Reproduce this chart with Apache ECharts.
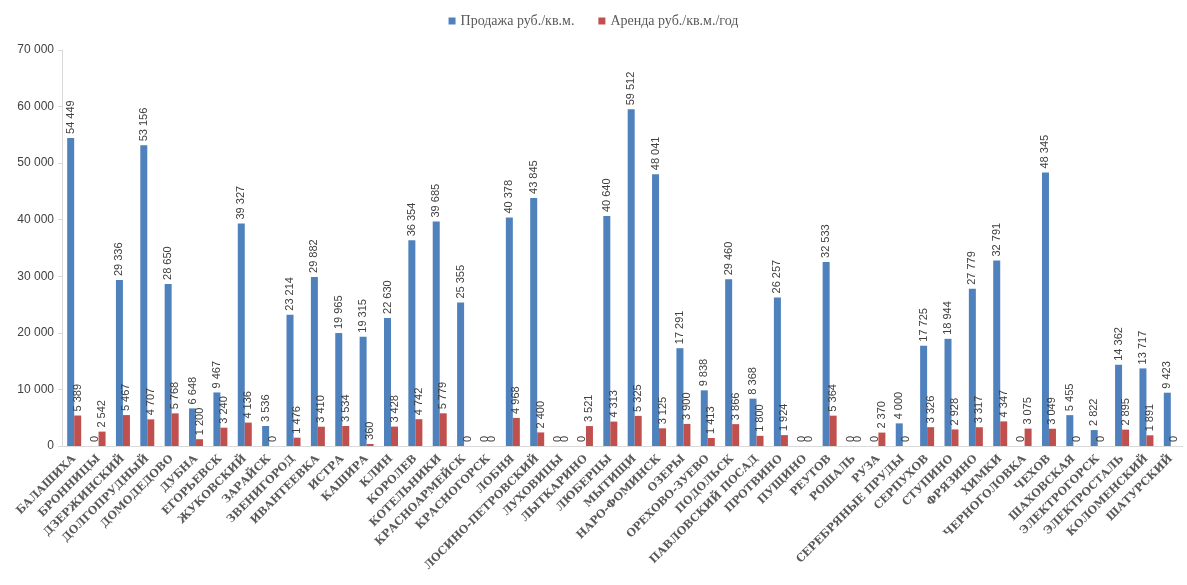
<!DOCTYPE html>
<html lang="ru">
<head>
    <meta charset="UTF-8">
    <script src="https://cdn.jsdelivr.net/npm/echarts@6/dist/echarts.min.js"></script>
    <style>
        body, html {
            margin: 0;
            height: 100%;
            background: #fff;
        }

        #main {
            width: 1187px;
            height: 585px;
        }
    </style>
    <title>Продажа и аренда</title>
</head>
<body>

<div id="main"></div>
<script type="text/javascript">
    const myChart = echarts.init(document.getElementById('main'));

    const cities = [
        'Балашиха', 'Бронницы', 'Дзержинский', 'Долгопрудный', 'Домодедово', 'Дубна',
        'Егорьевск', 'Жуковский', 'Зарайск', 'Звенигород', 'Ивантеевка', 'Истра',
        'Кашира', 'Клин', 'Королев', 'Котельники', 'Красноармейск', 'Красногорск',
        'Лобня', 'Лосино-Петровский', 'Луховицы', 'Лыткарино', 'Люберцы', 'Мытищи',
        'Наро-Фоминск', 'Озеры', 'Орехово-Зуево', 'Подольск', 'Павловский Посад', 'Протвино',
        'Пущино', 'Реутов', 'Рошаль', 'Руза', 'Серебряные пруды', 'Серпухов',
        'Ступино', 'Фрязино', 'Химки', 'Черноголовка', 'Чехов', 'Шаховская',
        'Электрогорск', 'Электросталь', 'Коломенский', 'Шатурский'
    ];
    const sale = [
        54449, 0, 29336, 53156, 28650, 6648,
        9467, 39327, 3536, 23214, 29882, 19965,
        19315, 22630, 36354, 39685, 25355, 0,
        40378, 43845, 0, 0, 40640, 59512,
        48041, 17291, 9838, 29460, 8368, 26257,
        0, 32533, 0, 0, 4000, 17725,
        18944, 27779, 32791, 0, 48345, 5455,
        2822, 14362, 13717, 9423
    ];
    const rent = [
        5389, 2542, 5467, 4707, 5768, 1200,
        3240, 4136, 0, 1476, 3410, 3534,
        360, 3428, 4742, 5779, 0, 0,
        4968, 2400, 0, 3521, 4313, 5325,
        3125, 3900, 1413, 3866, 1800, 1924,
        0, 5364, 0, 2370, 0, 3326,
        2928, 3317, 4347, 3075, 3049, 0,
        0, 2895, 1891, 0
    ];
    const seriesNames = ['Продажа руб./кв.м.', 'Аренда руб./кв.м./год'];

    function fmt(v) {
        return String(v).replace(/\B(?=(\d{3})+(?!\d))/g, ' ');
    }

    const barLabel = {
        show: true,
        position: 'top',
        rotate: 90,
        align: 'left',
        verticalAlign: 'middle',
        distance: 4,
        color: '#404040',
        fontSize: 11,
        fontFamily: 'Liberation Sans Narrow, Liberation Sans, sans-serif',
        formatter: function (p) {
            return fmt(p.value);
        }
    };

    const option = {
        animation: false,
        legend: {
            top: 9,
            left: 'center',
            icon: 'rect',
            itemWidth: 7,
            itemHeight: 7,
            itemGap: 24,
            textStyle: {
                color: '#595959',
                fontSize: 14,
                fontFamily: 'Liberation Serif, serif'
            },
            data: seriesNames
        },
        grid: {
            left: 62,
            right: 4,
            top: 50,
            bottom: 139
        },
        xAxis: {
            type: 'category',
            data: cities,
            axisLine: {lineStyle: {color: '#d9d9d9'}},
            axisTick: {show: false},
            axisLabel: {
                interval: 0,
                rotate: 45,
                color: '#595959',
                fontSize: 11,
                fontWeight: 'bold',
                fontFamily: 'DejaVu Serif, serif',
                margin: 11,
                formatter: function (v) {
                    return v.toUpperCase();
                }
            }
        },
        yAxis: {
            type: 'value',
            min: 0,
            max: 70000,
            interval: 10000,
            axisLine: {show: true, lineStyle: {color: '#d9d9d9'}},
            axisTick: {show: true, length: 4, lineStyle: {color: '#d9d9d9'}},
            splitLine: {show: false},
            axisLabel: {
                color: '#404040',
                fontSize: 12,
                fontFamily: 'Liberation Sans Narrow, Liberation Sans, sans-serif',
                margin: 8,
                formatter: fmt
            }
        },
        series: [
            {
                name: seriesNames[0],
                type: 'bar',
                data: sale,
                barWidth: 7,
                barGap: '0%',
                itemStyle: {color: '#4f81bd'},
                label: barLabel
            },
            {
                name: seriesNames[1],
                type: 'bar',
                data: rent,
                barWidth: 7,
                barGap: '0%',
                itemStyle: {color: '#c0504d'},
                label: barLabel
            }
        ]
    };
    myChart.setOption(option);
</script>
</body>
</html>
